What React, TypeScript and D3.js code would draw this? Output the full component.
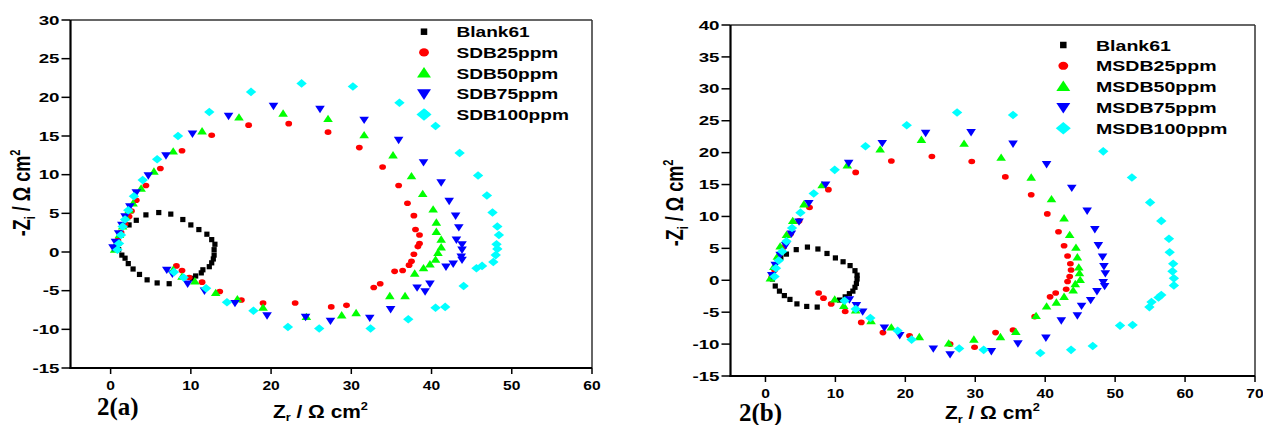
import React from 'react';
import * as d3 from 'd3';

// ---------- Data ----------
const seriesNamesA = ['Blank61', 'SDB25ppm', 'SDB50ppm', 'SDB75ppm', 'SDB100ppm'];
const seriesNamesB = ['Blank61', 'MSDB25ppm', 'MSDB50ppm', 'MSDB75ppm', 'MSDB100ppm'];
const seriesColors = ['#000000', '#ff0000', '#00ff00', '#0000ff', '#00ffff'];
const seriesShapes = ['square', 'circle', 'triUp', 'triDown', 'diamond'];

const xTicksA = [0, 10, 20, 30, 40, 50, 60];
const yTicksA = [-15, -10, -5, 0, 5, 10, 15, 20, 25, 30];
const xTicksB = [0, 10, 20, 30, 40, 50, 60, 70];
const yTicksB = [-15, -10, -5, 0, 5, 10, 15, 20, 25, 30, 35, 40];

// Panel (a)
const blankA: [number, number][] = [
  [1.0, 0.3], [1.4, -0.4], [1.8, -0.8], [2.2, -1.5], [2.8, -2.2], [3.6, -2.9], [4.55, -3.6], [5.8, -4.0], [7.3, -4.1],
  [2.3, 3.5], [3.2, 4.1], [4.4, 4.8], [6.0, 5.1], [7.5, 4.9], [9.0, 4.2], [10.0, 3.5], [11.0, 2.9], [12.0, 2.3],
  [12.6, 1.6], [13.0, 1.0], [12.9, 0.3], [12.9, -0.4], [12.8, -0.9], [12.6, -1.4], [12.3, -1.9], [11.5, -2.3],
  [11.3, -2.7], [10.6, -3.1], [10.2, -3.4],
];
const sdb25A: [number, number][] = [
  [0.7, 0.5], [0.9, 1.5], [1.3, 2.5], [1.8, 3.6], [2.3, 4.6], [2.6, 5.3], [3.2, 6.7], [4.4, 8.6], [6.2, 10.8],
  [8.9, 13.1], [12.6, 15.1], [17.2, 16.4], [22.2, 16.6], [27.1, 15.5], [31.0, 13.5], [33.9, 11.0], [35.9, 8.6],
  [37.0, 6.3], [37.8, 4.7], [38.0, 2.9], [38.5, 2.2], [38.5, 1.1], [38.3, 0.7], [37.8, -0.3], [37.5, -1.2],
  [37.2, -1.7], [36.4, -2.4], [35.4, -2.5], [33.6, -4.1], [32.8, -4.6], [29.4, -6.9], [27.5, -7.1], [23.0, -6.6],
  [19.0, -6.6], [16.3, -6.2], [13.6, -5.1], [11.4, -3.9], [9.8, -3.3], [8.9, -2.4], [8.2, -1.8],
];
const sdb50A: [number, number][] = [
  [0.5, 0.3], [0.8, 1.2], [1.1, 2.2], [1.5, 3.3], [1.9, 4.5], [2.3, 5.4], [2.8, 6.3], [3.8, 8.2], [5.4, 10.4],
  [7.8, 13.0], [11.4, 15.6], [16.0, 17.4], [21.5, 17.9], [27.1, 17.2], [31.6, 15.1], [35.2, 12.5], [37.5, 9.8],
  [38.9, 7.5], [40.2, 5.5], [40.6, 3.8], [40.6, 2.6], [41.2, 1.6], [41.2, 0.6], [40.8, -0.1], [40.5, -1.0],
  [39.8, -1.6], [39.0, -2.1], [37.9, -2.8], [36.7, -5.7], [34.8, -5.7], [30.6, -7.9], [28.8, -8.2], [24.4, -8.4],
  [19.0, -7.2], [15.8, -6.1], [13.1, -5.3], [10.5, -3.8], [8.9, -3.2], [7.8, -2.3],
];
const sdb75A: [number, number][] = [
  [0.3, 0.6], [0.6, 1.3], [1.0, 2.4], [1.4, 3.5], [1.8, 4.6], [2.4, 5.9], [3.2, 7.7], [4.7, 9.9], [6.9, 12.5],
  [10.2, 15.3], [14.7, 17.6], [20.3, 18.9], [26.1, 18.5], [31.6, 17.1], [35.9, 14.5], [39.0, 11.6], [41.2, 9.0],
  [42.2, 6.6], [43.0, 4.7], [43.4, 3.2], [43.1, 1.6], [43.8, 1.0], [43.8, 0.3], [43.7, -0.6], [43.8, -1.0],
  [42.7, -1.5], [41.8, -1.9], [39.8, -4.1], [39.2, -5.1], [38.2, -4.6], [34.9, -7.4], [32.3, -8.5], [27.4, -8.9],
  [24.3, -8.4], [19.5, -8.2], [15.5, -6.6], [11.7, -5.0], [9.6, -4.1], [7.7, -2.8], [7.0, -2.3],
];
const sdb100A: [number, number][] = [
  [0.85, 0.3], [1.05, 1.1], [1.3, 2.2], [1.5, 3.3], [1.8, 4.2], [2.2, 5.4], [2.9, 7.2], [4.0, 9.3], [5.8, 12.0],
  [8.4, 15.0], [12.3, 18.1], [17.5, 20.7], [23.8, 21.8], [30.2, 21.4], [36.0, 19.3], [39.2, 17.9], [40.5, 16.3],
  [43.5, 12.8], [45.8, 9.9], [46.9, 7.3], [47.6, 5.1], [48.2, 3.3], [48.4, 2.2], [48.1, 1.0], [48.2, 0.4],
  [48.0, -0.4], [47.7, -1.3], [46.3, -1.8], [45.6, -2.1], [44.0, -4.4], [41.7, -7.1], [40.5, -7.2], [37.1, -8.7],
  [32.4, -9.9], [26.0, -9.9], [22.1, -9.7], [17.8, -7.6], [14.5, -6.5], [11.9, -4.7], [9.1, -3.3], [7.9, -2.6],
];

// Panel (b)
const blankB: [number, number][] = [
  [1.0, 0.2], [1.4, -0.9], [2.0, -1.7], [2.7, -2.4], [3.5, -3.0], [4.5, -3.7], [5.9, -4.1], [7.4, -4.2],
  [2.2, 3.6], [3.0, 4.1], [4.4, 4.8], [6.0, 5.2], [7.5, 4.9], [8.8, 4.2], [10.0, 3.5], [11.1, 2.9], [12.1, 2.3],
  [12.8, 1.5], [13.1, 0.8], [13.1, 0.2], [13.0, -0.5], [12.8, -1.1], [12.5, -1.7], [12.0, -2.1], [11.4, -2.6],
  [10.6, -3.1],
];
const msdb25B: [number, number][] = [
  [0.9, 0.5], [1.3, 1.6], [1.8, 3.2], [2.6, 5.2], [3.6, 7.3], [4.8, 9.3], [6.3, 11.4], [9.0, 14.2], [12.9, 16.9],
  [18.0, 18.7], [23.8, 19.4], [29.5, 18.6], [34.3, 16.2], [38.0, 13.4], [40.3, 10.4], [41.9, 7.6], [42.7, 5.4],
  [43.2, 3.8], [43.6, 2.6], [43.7, 1.6], [43.5, 0.6], [43.2, -0.2], [43.0, -1.4], [41.5, -2.0], [40.7, -2.6],
  [38.5, -5.7], [35.4, -7.8], [32.9, -8.2], [29.9, -10.5], [26.4, -10.0], [20.6, -8.7], [16.8, -8.2],
  [13.7, -6.6], [11.4, -4.9], [9.4, -3.7], [8.3, -2.8], [7.6, -2.0],
];
const msdb50B: [number, number][] = [
  [0.7, 0.3], [1.2, 2.1], [1.7, 3.7], [2.1, 5.3], [3.0, 7.1], [3.9, 9.3], [5.5, 11.9], [8.1, 14.9], [11.7, 18.0],
  [16.4, 20.5], [22.3, 22.0], [28.4, 21.4], [33.7, 19.2], [38.0, 16.1], [40.9, 12.7], [42.7, 9.7], [43.5, 7.1],
  [44.4, 5.1], [44.6, 3.6], [44.8, 2.0], [44.9, 1.1], [45.0, 0.05], [44.3, -0.6], [44.0, -1.6], [42.7, -2.6],
  [41.6, -3.5], [40.2, -4.1], [38.7, -5.6], [35.8, -8.1], [33.6, -8.9], [29.8, -9.3], [26.2, -9.9], [22.0, -8.9],
  [18.0, -7.4], [15.1, -6.4], [12.9, -4.7], [11.2, -4.0], [9.9, -3.0],
];
const msdb75B: [number, number][] = [
  [0.9, 0.8], [1.4, 2.4], [2.1, 4.0], [2.9, 5.5], [3.7, 7.3], [4.8, 9.2], [6.2, 12.1], [8.6, 15.0], [11.9, 18.4],
  [16.7, 21.5], [22.9, 23.1], [29.4, 23.2], [35.4, 21.4], [40.2, 18.2], [43.8, 14.5], [46.0, 10.9], [47.1, 8.0],
  [47.6, 5.5], [48.2, 3.7], [48.4, 2.2], [48.6, 1.1], [48.3, -0.3], [48.5, -0.9], [47.4, -1.7], [46.5, -3.1],
  [45.2, -4.0], [44.6, -5.5], [42.3, -6.3], [40.1, -9.0], [36.1, -9.9], [32.3, -11.1], [26.4, -11.6],
  [24.0, -10.7], [19.2, -8.6], [17.0, -7.4], [13.9, -4.9], [13.0, -3.9], [12.0, -3.0],
];
const msdb100B: [number, number][] = [
  [1.3, 0.6], [1.5, 1.9], [1.9, 3.1], [2.4, 4.5], [3.0, 6.1], [3.8, 8.2], [5.0, 10.6], [6.9, 13.6], [9.9, 17.3],
  [14.3, 21.0], [20.2, 24.3], [27.4, 26.3], [35.4, 25.9], [48.3, 20.2], [52.4, 16.1], [55.0, 12.2], [56.6, 9.3],
  [57.7, 6.5], [57.8, 4.4], [58.3, 2.6], [58.2, 1.4], [58.4, 0.3], [58.4, -0.8], [56.6, -2.3], [56.2, -2.7],
  [55.2, -3.4], [54.9, -4.2], [52.5, -7.0], [50.7, -7.1], [46.8, -10.3], [43.7, -10.9], [39.3, -11.4],
  [31.2, -10.9], [27.7, -10.7], [20.9, -9.3], [18.9, -7.9], [15.0, -5.9], [12.9, -4.5], [11.3, -3.2],
];

const seriesA = [blankA, sdb25A, sdb50A, sdb75A, sdb100A];
const seriesB = [blankB, msdb25B, msdb50B, msdb75B, msdb100B];

// ---------- Helpers ----------
const SANS = "Arial, 'Liberation Sans', sans-serif";
const SERIF = "'Times New Roman', 'Liberation Serif', serif";

function Marker({ shape, x, y, k = 1, color }: { shape: string; x: number; y: number; k?: number; color: string }) {
  if (shape === 'square') {
    const s = 5.2 * k;
    return <rect x={x - s / 2} y={y - s / 2} width={s} height={s} fill={color} />;
  }
  if (shape === 'circle') {
    return <ellipse cx={x} cy={y} rx={3.4 * k} ry={2.8 * k} fill={color} />;
  }
  if (shape === 'triUp') {
    const w = 4.8 * k, h = 7.4 * k;
    return <path d={`M${x},${y - h * 0.58}L${x + w},${y + h * 0.42}L${x - w},${y + h * 0.42}Z`} fill={color} />;
  }
  if (shape === 'triDown') {
    const w = 4.8 * k, h = 7.4 * k;
    return <path d={`M${x},${y + h * 0.58}L${x + w},${y - h * 0.42}L${x - w},${y - h * 0.42}Z`} fill={color} />;
  }
  const w = 5.2 * k, h = 4.3 * k;
  return <path d={`M${x},${y - h}L${x + w},${y}L${x},${y + h}L${x - w},${y}Z`} fill={color} />;
}

function SText({ x, y, sx = 1, anchor = 'start', size, family = SANS, weight = 'bold', rotate = 0, children }: any) {
  return (
    <g transform={`translate(${x},${y}) scale(${sx},1)${rotate ? ` rotate(${rotate})` : ''}`}>
      <text textAnchor={anchor} fontSize={size} fontFamily={family} fontWeight={weight} fill="#000">
        {children}
      </text>
    </g>
  );
}

type PanelCfg = {
  x0: number; x1: number; y0: number; y1: number;
  xDomain: [number, number]; yDomain: [number, number];
  xTicks: number[]; yTicks: number[];
  series: [number, number][][]; names: string[];
  legX: number; legTextX: number; legY: number; legStep: number; legSx: number;
  xTitleX: number; xTitleY: number; yTitleX: number; yTitleY: number;
  tagX: number; tagY: number; tag: string;
};

function Panel(c: PanelCfg) {
  const x = d3.scaleLinear().domain(c.xDomain).range([c.x0, c.x1]);
  const y = d3.scaleLinear().domain(c.yDomain).range([c.y1, c.y0]);
  const order = [0, 1, 2, 3, 4];
  return (
    <g>
      {/* frame */}
      <line x1={c.x0} x2={c.x1} y1={c.y0} y2={c.y0} stroke="#333" strokeWidth={1.5} />
      <line x1={c.x1} x2={c.x1} y1={c.y0} y2={c.y1} stroke="#333" strokeWidth={1.5} />
      <line x1={c.x0} x2={c.x0} y1={c.y0} y2={c.y1 + 1} stroke="#000" strokeWidth={2.2} />
      <line x1={c.x0 - 1} x2={c.x1} y1={c.y1} y2={c.y1} stroke="#000" strokeWidth={2.2} />
      {/* y ticks */}
      {c.yTicks.map((t) => (
        <g key={'y' + t}>
          <line x1={c.x0 - 9} x2={c.x0} y1={y(t)} y2={y(t)} stroke="#000" strokeWidth={1.5} />
          <SText x={c.x0 - 11} y={y(t) + 4.6} sx={1.5} anchor="end" size={12.5}>{t}</SText>
        </g>
      ))}
      {/* x ticks */}
      {c.xTicks.map((t) => (
        <g key={'x' + t}>
          <line x1={x(t)} x2={x(t)} y1={c.y1} y2={c.y1 + 6} stroke="#000" strokeWidth={1.5} />
          <SText x={x(t)} y={c.y1 + 21.5} sx={1.25} anchor="middle" size={12.5}>{t}</SText>
        </g>
      ))}
      {/* points */}
      {order.map((si) => (
        <g key={'s' + si}>
          {c.series[si].map((p, i) => (
            <Marker key={i} shape={seriesShapes[si]} x={x(p[0])} y={y(p[1])} color={seriesColors[si]} />
          ))}
        </g>
      ))}
      {/* legend */}
      {c.names.map((n, i) => (
        <g key={'l' + i}>
          <Marker shape={seriesShapes[i]} x={c.legX} y={c.legY + i * c.legStep} k={i === 0 ? 1.25 : 1.45} color={seriesColors[i]} />
          <SText x={c.legTextX} y={c.legY + i * c.legStep + 5.5} sx={c.legSx} size={15.4}>{n}</SText>
        </g>
      ))}
      {/* axis titles */}
      <SText x={c.xTitleX} y={c.xTitleY} sx={1.16} size={18}>
        Z<tspan fontSize={11} dy={3.5}>r</tspan><tspan dy={-3.5}> / Ω cm</tspan><tspan fontSize={11} dy={-8}>2</tspan>
      </SText>
      <SText x={c.yTitleX} y={c.yTitleY} sx={1.3} rotate={-90} anchor="middle" size={18}>
        -Z<tspan fontSize={11} dy={3.5}>i</tspan><tspan dy={-3.5}> / Ω cm</tspan><tspan fontSize={11} dy={-8}>2</tspan>
      </SText>
      <SText x={c.tagX} y={c.tagY} size={25} family={SERIF}>{c.tag}</SText>
    </g>
  );
}

export default function App() {
  return (
    <svg width={1263} height={425} style={{ position: 'absolute', left: 0, top: 0, background: '#fff' }}>
      <rect width={1263} height={425} fill="#fff" />
      <Panel
        x0={70.5} x1={592} y0={20} y1={368}
        xDomain={[-5, 60]} yDomain={[-15, 30]}
        xTicks={xTicksA} yTicks={yTicksA}
        series={seriesA} names={seriesNamesA}
        legX={424} legTextX={456.5} legY={31.7} legStep={20.7} legSx={1.24}
        xTitleX={273} xTitleY={417.5} yTitleX={30} yTitleY={193}
        tagX={97} tagY={415} tag="2(a)"
      />
      <Panel
        x0={730.5} x1={1255} y0={25} y1={376}
        xDomain={[-5, 70]} yDomain={[-15, 40]}
        xTicks={xTicksB} yTicks={yTicksB}
        series={seriesB} names={seriesNamesB}
        legX={1063.3} legTextX={1096} legY={45} legStep={20.8} legSx={1.27}
        xTitleX={945} xTitleY={419} yTitleX={683} yTitleY={203}
        tagX={739} tagY={421} tag="2(b)"
      />
    </svg>
  );
}
